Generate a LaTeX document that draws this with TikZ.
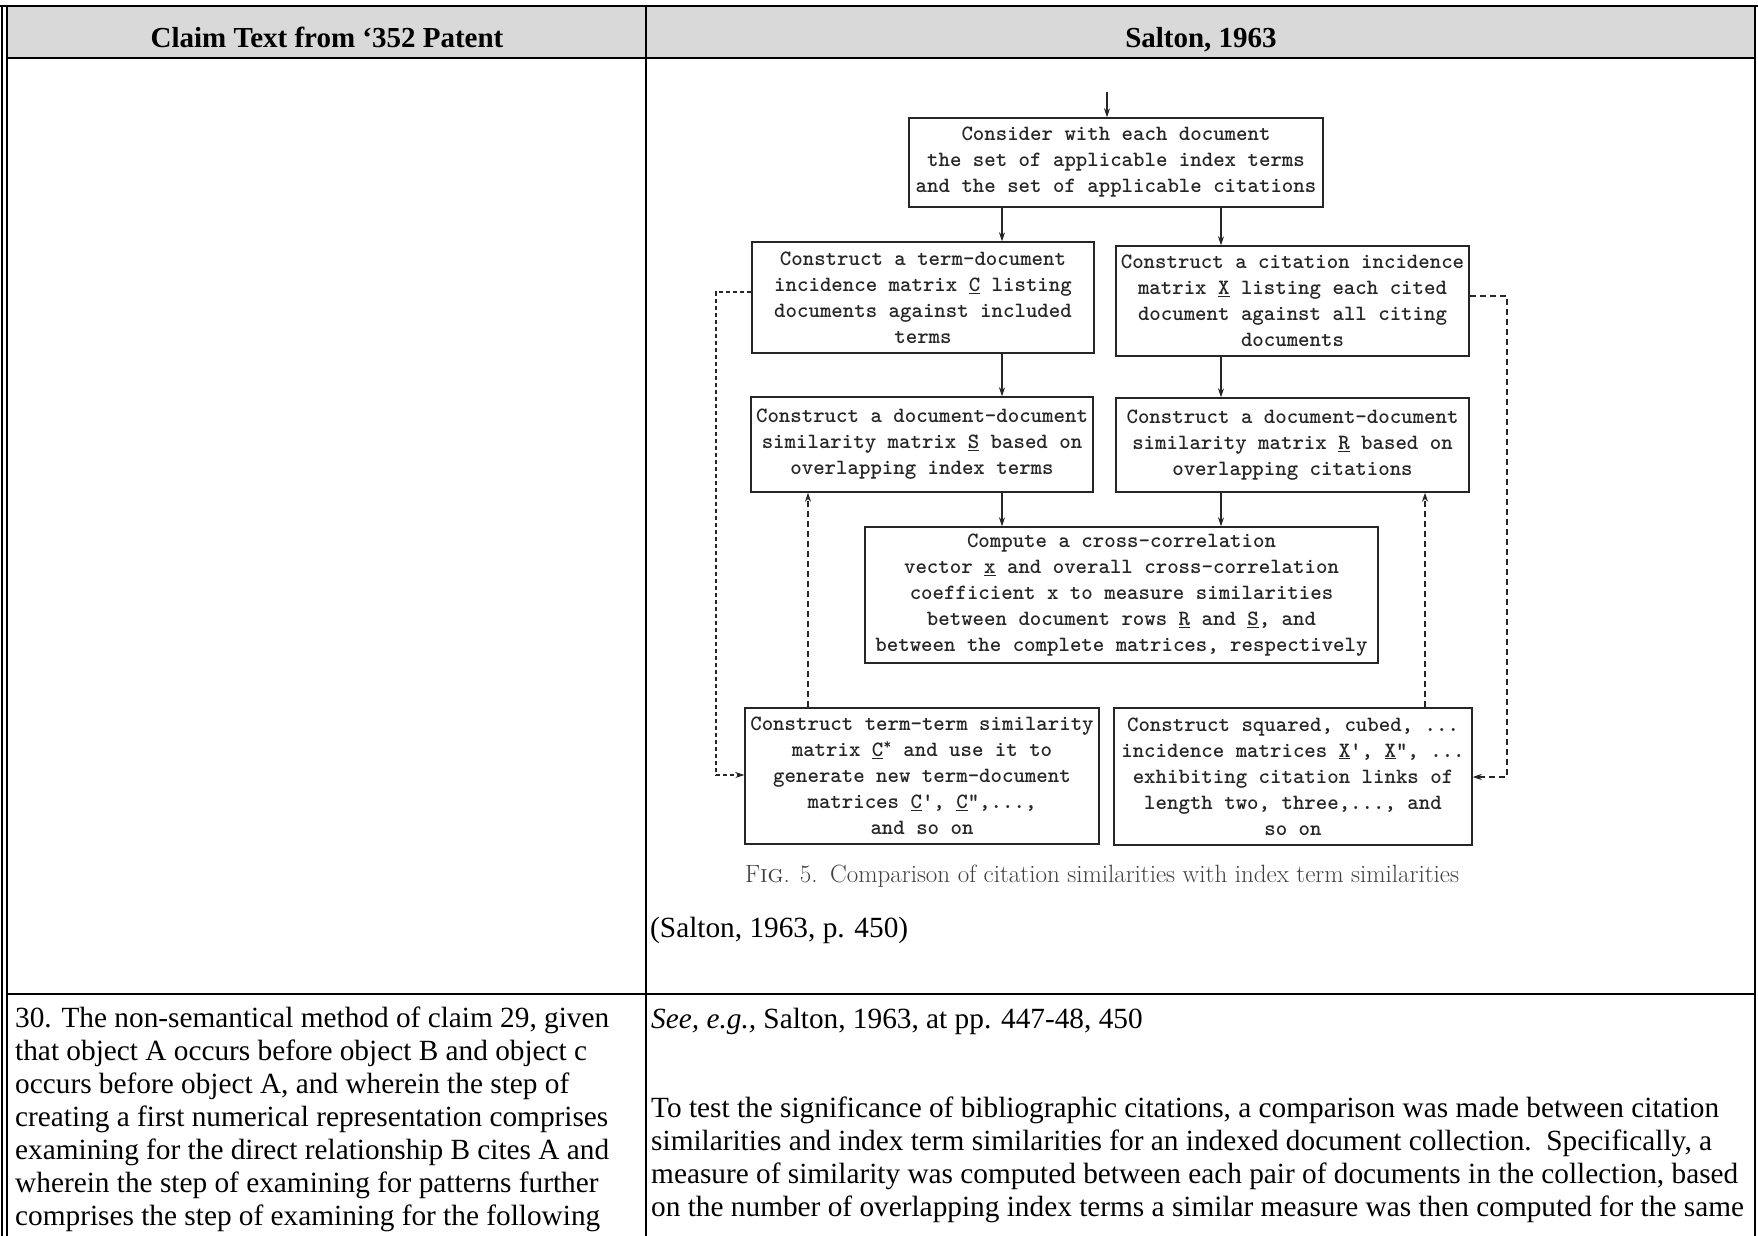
\documentclass[tikz,border=0pt]{standalone}
\usepackage{fontspec}
\newfontfamily\tnr{Liberation Serif}
\usetikzlibrary{arrows.meta}
\definecolor{hdr}{HTML}{D9D9D9}
\definecolor{ink}{HTML}{262626}
\tikzset{
  fbox/.style={draw=ink, line width=1.4pt, align=center, inner sep=0pt,
    font=\ttfamily\bfseries\fontsize{21.8}{26}\selectfont, text=ink},
  arr/.style={-{Stealth[length=9pt,width=6pt]}, line width=1.3pt, draw=ink},
  darr/.style={arr, dash pattern=on 6pt off 4pt},
  farr/.style={arr, dash pattern=on 4pt off 3pt},
  body/.style={font=\tnr\fontsize{29.3}{33}\selectfont, inner sep=0pt, anchor=base west},
  head/.style={font=\tnr\bfseries\fontsize{29}{33}\selectfont, inner sep=0pt, anchor=base},
  rule/.style={line width=2.5pt, draw=black},
  thin/.style={line width=1.6pt, draw=black}
}
\begin{document}
\begin{tikzpicture}[x=1pt,y=-1pt]
\useasboundingbox (0,0) rectangle (1758,1236);
\fill[white] (0,0) rectangle (1758,1236);
% table
\fill[hdr] (7,6) rectangle (1755,58);
\draw[rule] (0,6) -- (1758,6);
\draw[rule] (7,58) -- (1755,58);
\draw[rule] (7,994) -- (1755,994);
\draw[thin] (2,5) -- (2,1236);
\draw[thin] (7,5) -- (7,1236);
\draw[rule] (1755,5) -- (1755,1236);
\draw[thin] (646,6) -- (646,1236);
\node[head] (h1) at (327,48) {Claim Text from ‘352 Patent};
\node[head] (h2) at (1201,48) {Salton, 1963};
% flowchart boxes
\node[fbox, minimum width=414pt, minimum height=89pt] (cons) at (1116,162.5)
  {Consider with each document\\the set of applicable index terms\\and the set of applicable citations};
\node[fbox, minimum width=342pt, minimum height=111pt] (td) at (923,297.5)
  {Construct a term-document\\incidence matrix \underline{C} listing\\documents against included\\terms};
\node[fbox, minimum width=353pt, minimum height=110pt] (ci) at (1292.5,301)
  {Construct a citation incidence\\matrix \underline{X} listing each cited\\document against all citing\\documents};
\node[fbox, minimum width=342pt, minimum height=95pt] (s) at (922,444.5)
  {Construct a document-document\\similarity matrix \underline{S} based on\\overlapping index terms};
\node[fbox, minimum width=353pt, minimum height=94pt] (r) at (1292.5,445)
  {Construct a document-document\\similarity matrix \underline{R} based on\\overlapping citations};
\node[fbox, minimum width=513pt, minimum height=136pt] (cc) at (1121.5,595)
  {Compute a cross-correlation\\vector \underline{x} and overall cross-correlation\\coefficient x to measure similarities\\between document rows \underline{R} and \underline{S}, and\\between the complete matrices, respectively};
\node[fbox, minimum width=354pt, minimum height=136pt] (cs) at (922,776)
  {Construct term-term similarity\\matrix \underline{C}\textsuperscript{*} and use it to\\generate new term-document\\matrices \underline{C}', \underline{C}",...,\\and so on};
\node[fbox, minimum width=358pt, minimum height=137pt] (xp) at (1293,776.5)
  {Construct squared, cubed, ...\\incidence matrices \underline{X}', \underline{X}", ...\\exhibiting citation links of\\length two, three,..., and\\so on};
% connector coordinates
\coordinate (xt) at (1107,92);
\coordinate (xl) at (1002,0);
\coordinate (xr) at (1221,0);
\coordinate (xcs) at (808,0);
\coordinate (xxp) at (1425,0);
\coordinate (ll1) at (716,292);
\coordinate (ll2) at (716,775);
\coordinate (rl1) at (1507,296);
\coordinate (rl2) at (1507,777);
% solid arrows
\draw[arr] (xt) -- (xt |- cons.north);
\draw[arr] (cons.south -| xl) -- (td.north -| xl);
\draw[arr] (cons.south -| xr) -- (ci.north -| xr);
\draw[arr] (td.south -| xl) -- (s.north -| xl);
\draw[arr] (ci.south -| xr) -- (r.north -| xr);
\draw[arr] (s.south -| xl) -- (cc.north -| xl);
\draw[arr] (r.south -| xr) -- (cc.north -| xr);
% dashed feedback
\draw[darr] (cs.north -| xcs) -- (s.south -| xcs);
\draw[darr] (xp.north -| xxp) -- (r.south -| xxp);
\draw[farr] (td.west |- ll1) -- (ll1) -- (ll2) -- (cs.west |- ll2);
\draw[darr] (ci.east |- rl1) -- (rl1) -- (rl2) -- (xp.east |- rl2);
% caption
\node[font=\rmfamily\fontsize{25}{28}\selectfont, text=black!75, anchor=base, inner sep=0pt] (cap) at (1102,882)
  {F\textsc{ig}. 5.\enspace Comparison of citation similarities with index term similarities};
\node[body] (cite) at (650,937) {(Salton, 1963, p. 450)};
% row 2
\node[body] (claim) at (15,1027) {\vtop{%
  \hbox{30. The non-semantical method of claim 29, given}
  \hbox{that object A occurs before object B and object c}
  \hbox{occurs before object A, and wherein the step of}
  \hbox{creating a first numerical representation comprises}
  \hbox{examining for the direct relationship B cites A and}
  \hbox{wherein the step of examining for patterns further}
  \hbox{comprises the step of examining for the following}}};
\node[body] (see) at (651,1028) {\textit{See, e.g.,} Salton, 1963, at pp. 447-48, 450};
\node[body] (para) at (651,1117) {\vtop{%
  \hbox{To test the significance of bibliographic citations, a comparison was made between citation}
  \hbox{similarities and index term similarities for an indexed document collection.\ \ Specifically, a}
  \hbox{measure of similarity was computed between each pair of documents in the collection, based}
  \hbox{on the number of overlapping index terms a similar measure was then computed for the same}}};
\end{tikzpicture}
\end{document}
